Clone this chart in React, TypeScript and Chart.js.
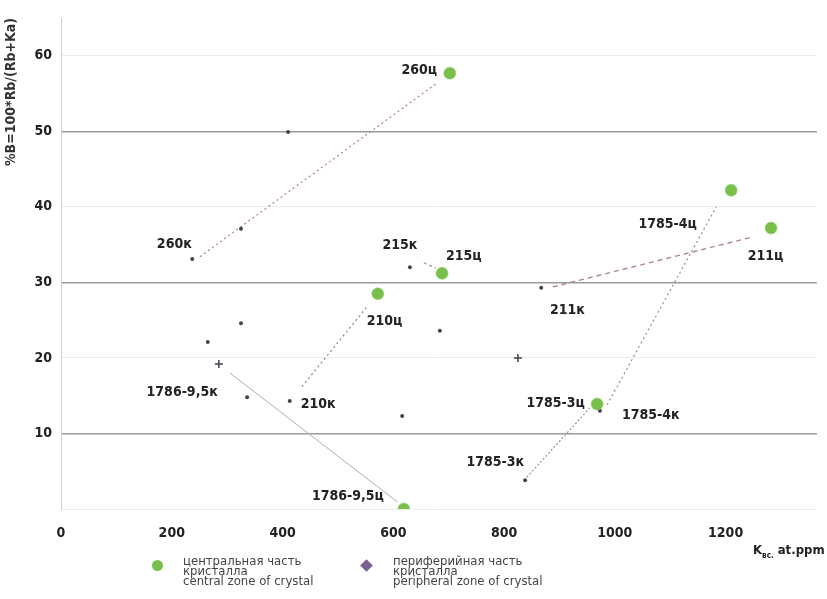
import React, { useEffect, useRef } from "react";
import { Chart, registerables } from "chart.js";

Chart.register(...registerables);

// ---- data ----
const centralPoints = [
  { x: 702, y: 57.7 }, // 260ц
  { x: 688, y: 31.2 }, // 215ц
  { x: 572, y: 28.5 }, // 210ц
  { x: 1210, y: 42.2 }, // 1785-4ц
  { x: 1282, y: 37.2 }, // 211ц
  { x: 968, y: 13.9 }, // 1785-3ц
  { x: 619, y: 0.0 }, // 1786-9,5ц
];

const peripheralPoints = [
  { x: 410, y: 49.9 },
  { x: 237, y: 33.1 },
  { x: 325, y: 37.1 },
  { x: 325, y: 24.6 },
  { x: 265, y: 22.1 },
  { x: 336, y: 14.8 },
  { x: 413, y: 14.3 },
  { x: 630, y: 32.0 },
  { x: 684, y: 23.6 },
  { x: 616, y: 12.3 },
  { x: 867, y: 29.3 },
  { x: 838, y: 3.8 },
  { x: 973, y: 13.0 },
];

const peripheralCrosses = [
  { x: 285, y: 19.2 },
  { x: 825, y: 20.0 },
];

// connecting lines: [start, end]
const line260 = [{ x: 251, y: 33.4 }, { x: 679, y: 56.4 }];
const line210 = [{ x: 435, y: 16.2 }, { x: 554, y: 26.9 }];
const line215 = [{ x: 655, y: 32.6 }, { x: 677, y: 31.9 }];
const line211 = [{ x: 888, y: 29.4 }, { x: 1248, y: 36.0 }];
const line1785a = [{ x: 841, y: 4.2 }, { x: 955, y: 13.4 }];
const line1785b = [{ x: 986, y: 13.8 }, { x: 1183, y: 40.0 }];
const line1786 = [{ x: 305, y: 18.0 }, { x: 608, y: 0.9 }];

// point labels: text, anchor (data units), alignment
const pointLabels = [
  { text: "260ц", x: 679, y: 58.1, align: "right" },
  { text: "260к", x: 236, y: 35.1, align: "right" },
  { text: "215к", x: 612, y: 34.9, align: "center" },
  { text: "215ц", x: 695, y: 33.4, align: "left" },
  { text: "210ц", x: 552, y: 24.8, align: "left" },
  { text: "210к", x: 433, y: 13.8, align: "left" },
  { text: "1786-9,5к", x: 283, y: 15.5, align: "right" },
  { text: "1786-9,5ц", x: 583, y: 1.7, align: "right" },
  { text: "1785-3к", x: 836, y: 6.2, align: "right" },
  { text: "1785-3ц", x: 946, y: 14.0, align: "right" },
  { text: "1785-4к", x: 1013, y: 12.4, align: "left" },
  { text: "1785-4ц", x: 1148, y: 37.7, align: "right" },
  { text: "211к", x: 883, y: 26.3, align: "left" },
  { text: "211ц", x: 1240, y: 33.4, align: "left" },
];

const yTicks = [0, 10, 20, 30, 40, 50, 60];
const xTicks = [0, 200, 400, 600, 800, 1000, 1200];
const yTitle = "%B=100*Rb/(Rb+Ka)";
const legendCentral = ["центральная часть", "кристалла", "central zone of crystal"];
const legendPeripheral = ["периферийная часть", "кристалла", "peripheral zone of crystal"];

const FONT = "'Liberation Sans Narrow', 'DejaVu Sans Condensed', 'Roboto', sans-serif";

const labelPlugin = {
  id: "pointLabels",
  afterDatasetsDraw(chart: any) {
    const { ctx, scales } = chart;
    ctx.save();
    ctx.font = `bold 14px ${FONT}`;
    ctx.fillStyle = "#222";
    ctx.textBaseline = "middle";
    for (const l of pointLabels) {
      ctx.textAlign = l.align;
      ctx.fillText(l.text, scales.x.getPixelForValue(l.x), scales.y.getPixelForValue(l.y));
    }
    ctx.restore();
  },
};

function lineDs(data: any[], color: string, dash: number[], width = 1.2) {
  return {
    type: "line",
    data,
    borderColor: color,
    borderWidth: width,
    borderDash: dash,
    pointRadius: 0,
    showLine: true,
    fill: false,
    order: 5,
  };
}

export default function App() {
  const ref = useRef<HTMLCanvasElement>(null);
  useEffect(() => {
    if (!ref.current) return;
    const chart = new Chart(ref.current, {
      type: "scatter",
      data: {
        datasets: [
          lineDs(line260, "#b88080", [2, 3]),
          lineDs(line210, "#a08070", [2, 3]),
          lineDs(line215, "#9090b0", [3, 3]),
          lineDs(line211, "#b08888", [5, 4], 1.4),
          lineDs(line1785a, "#a090a0", [2, 2]),
          lineDs(line1785b, "#a08898", [2, 3]),
          lineDs(line1786, "#b0b0b0", [], 1),
          {
            type: "scatter",
            data: centralPoints,
            pointRadius: 6,
            pointBackgroundColor: "#78c04a",
            pointBorderColor: "rgba(150,210,120,0.6)",
            pointBorderWidth: 1,
            order: 1,
          },
          {
            type: "scatter",
            data: peripheralPoints,
            pointRadius: 2,
            pointBackgroundColor: "#4a4050",
            pointBorderColor: "#4a4050",
            pointBorderWidth: 0,
            order: 1,
          },
          {
            type: "scatter",
            data: peripheralCrosses,
            pointStyle: "cross",
            pointRadius: 4,
            pointBorderColor: "#4a4050",
            pointBorderWidth: 1.5,
            order: 1,
          },
        ] as any,
      },
      options: {
        animation: false,
        responsive: true,
        maintainAspectRatio: false,
        layout: { padding: { top: 18, right: 10, left: 0, bottom: 0 } },
        plugins: { legend: { display: false }, tooltip: { enabled: false } },
        scales: {
          x: {
            type: "linear",
            min: 0,
            max: 1365,
            afterBuildTicks: (s: any) => {
              s.ticks = xTicks.map((v) => ({ value: v }));
            },
            afterFit: (s: any) => {
              s.height = 90;
            },
            grid: { display: false },
            border: { display: false },
            ticks: {
              padding: 8,
              color: "#222",
              font: { family: FONT, size: 14, weight: "bold" },
              maxRotation: 0,
              callback: (v: any) => String(v),
            },
          },
          y: {
            type: "linear",
            min: 0,
            max: 65,
            afterBuildTicks: (s: any) => {
              s.ticks = yTicks.map((v) => ({ value: v }));
            },
            afterFit: (s: any) => {
              s.width = 61;
            },
            border: { display: true, color: "#d0d0d0", width: 1 },
            grid: {
              drawTicks: false,
              color: (c: any) => (c.tick && [10, 30, 50].includes(c.tick.value) ? "#9a9a9a" : "#ececec"),
              lineWidth: (c: any) => (c.tick && [10, 30, 50].includes(c.tick.value) ? 1.6 : 1),
            },
            ticks: {
              padding: 9,
              color: "#222",
              font: { family: FONT, size: 14, weight: "bold" },
              callback: (v: any) => (v === 0 ? "" : String(v)),
            },
            title: {
              display: true,
              text: yTitle,
              align: "end",
              color: "#333",
              padding: { top: 3, bottom: 0 },
              font: { family: FONT, size: 14, weight: "bold" },
            },
          },
        },
      },
      plugins: [labelPlugin],
    } as any);
    return () => chart.destroy();
  }, []);

  const legendText: React.CSSProperties = {
    position: "absolute",
    fontFamily: FONT,
    fontSize: 13,
    lineHeight: "10px",
    color: "#444",
    whiteSpace: "nowrap",
  };

  return (
    <div style={{ position: "fixed", left: 0, top: 0, width: 827, height: 599, background: "#fff" }}>
      <canvas ref={ref} />
      <div
        style={{
          position: "absolute",
          left: 753,
          top: 542,
          fontFamily: FONT,
          fontWeight: "bold",
          fontSize: 13,
          color: "#222",
          whiteSpace: "nowrap",
        }}
      >
        K<sub style={{ fontSize: 8 }}>вс.</sub> at.ppm
      </div>
      <div
        style={{
          position: "absolute",
          left: 152,
          top: 560,
          width: 11,
          height: 11,
          borderRadius: "50%",
          background: "#78c04a",
        }}
      />
      <div style={{ ...legendText, left: 183, top: 556 }}>
        {legendCentral.map((t) => (
          <div key={t}>{t}</div>
        ))}
      </div>
      <div
        style={{
          position: "absolute",
          left: 362,
          top: 561,
          width: 9,
          height: 9,
          transform: "rotate(45deg)",
          background: "#7a6090",
        }}
      />
      <div style={{ ...legendText, left: 393, top: 556 }}>
        {legendPeripheral.map((t) => (
          <div key={t}>{t}</div>
        ))}
      </div>
    </div>
  );
}
